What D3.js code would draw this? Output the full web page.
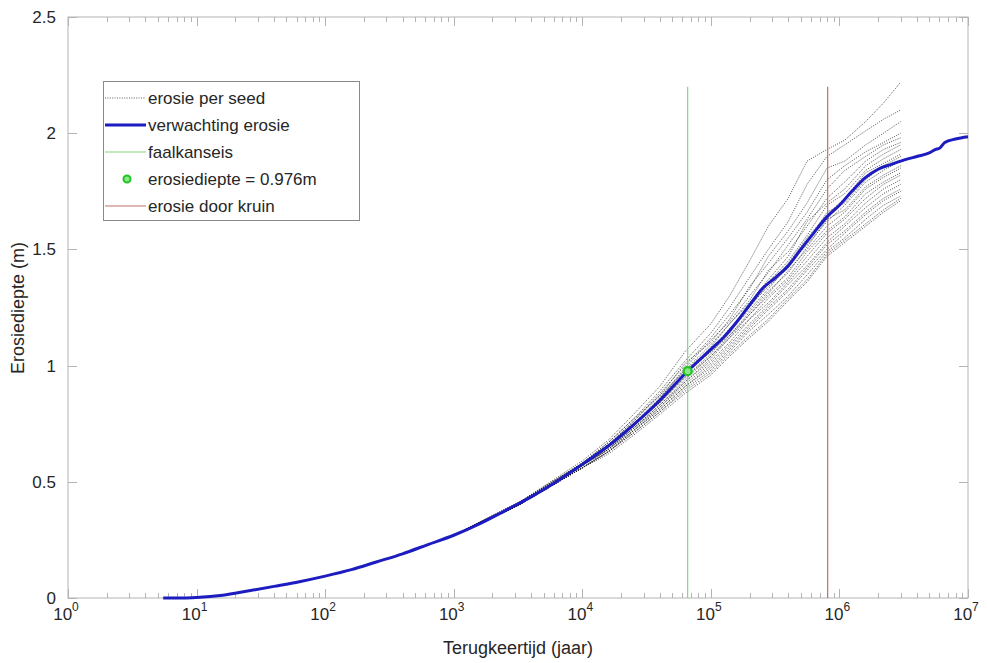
<!DOCTYPE html>
<html><head><meta charset="utf-8">
<script src="https://cdn.jsdelivr.net/npm/d3@7"></script>
<style>
body{margin:0;background:#fff;}
svg text{font-family:"Liberation Sans",Arial,Helvetica,sans-serif;fill:#262626;}
</style></head>
<body><svg id="c" width="988" height="663"></svg>
<script>
// ---------- data ----------
const xTickExponents = [0,1,2,3,4,5,6,7];
const yTicks = [0,0.5,1,1.5,2,2.5];
const xLabel = "Terugkeertijd (jaar)";
const yLabel = "Erosiediepte (m)";
const legendLabels = ["erosie per seed","verwachting erosie","faalkanseis","erosiediepte = 0.976m","erosie door kruin"];

// expected erosion (blue)
const meanT = [5.5,8,10,16,25,40,63,100,160,250,400,630,1000,1600,2500,4000,6300,1e4,1.6e4,2.5e4,4e4,6.3e4,1e5,1.25e5,1.6e5,2e5,2.5e5,3.2e5,4e5,5e5,6.3e5,8e5,1e6,1.25e6,1.6e6,2e6,2.5e6,3.2e6,4e6,5e6,5.6e6,6e6,6.6e6,8e6,1e7];
const meanE = [0,0,0.002,0.012,0.03,0.05,0.07,0.094,0.122,0.155,0.19,0.23,0.27,0.32,0.375,0.435,0.50,0.575,0.655,0.745,0.85,0.965,1.07,1.12,1.19,1.26,1.33,1.38,1.43,1.50,1.57,1.64,1.69,1.75,1.81,1.845,1.865,1.885,1.90,1.915,1.93,1.935,1.96,1.975,1.985];

// per-seed erosion (dotted)
const seedT = [1000,3200,1e4,1.6e4,2.5e4,4e4,6.3e4,1e5,1.4e5,2e5,2.8e5,4e5,5.6e5,8e5,1.1e6,1.6e6,2.2e6,3e6];
const seeds = [
 [0.27,0.41,0.59,0.68,0.79,0.91,1.06,1.18,1.30,1.45,1.60,1.72,1.88,1.93,1.97,2.05,2.13,2.22],
 [0.27,0.41,0.58,0.67,0.77,0.89,1.02,1.14,1.25,1.38,1.50,1.62,1.78,1.90,1.95,2.01,2.06,2.10],
 [0.27,0.40,0.58,0.66,0.76,0.88,1.00,1.12,1.22,1.33,1.47,1.58,1.70,1.85,1.88,1.95,2.00,2.05],
 [0.27,0.41,0.58,0.67,0.77,0.87,1.01,1.10,1.20,1.34,1.44,1.55,1.66,1.80,1.86,1.92,1.96,2.00],
 [0.27,0.40,0.57,0.66,0.75,0.86,0.99,1.11,1.19,1.30,1.40,1.52,1.63,1.76,1.84,1.90,1.95,1.98],
 [0.27,0.41,0.58,0.66,0.76,0.87,0.98,1.09,1.18,1.28,1.41,1.49,1.60,1.72,1.79,1.88,1.93,1.96],
 [0.27,0.40,0.57,0.65,0.74,0.85,0.97,1.08,1.18,1.27,1.37,1.47,1.62,1.70,1.76,1.86,1.91,1.95],
 [0.27,0.40,0.58,0.66,0.75,0.84,0.96,1.06,1.15,1.27,1.36,1.45,1.56,1.69,1.74,1.84,1.89,1.93],
 [0.27,0.41,0.57,0.65,0.74,0.86,0.98,1.07,1.16,1.25,1.35,1.44,1.55,1.65,1.72,1.83,1.87,1.91],
 [0.27,0.40,0.57,0.65,0.75,0.85,0.96,1.07,1.14,1.26,1.34,1.42,1.53,1.66,1.70,1.80,1.86,1.90],
 [0.27,0.40,0.58,0.66,0.74,0.84,0.95,1.05,1.15,1.24,1.33,1.43,1.52,1.62,1.69,1.79,1.84,1.88],
 [0.27,0.41,0.57,0.65,0.75,0.85,0.97,1.06,1.13,1.23,1.32,1.40,1.51,1.63,1.67,1.77,1.82,1.86],
 [0.27,0.40,0.57,0.64,0.74,0.84,0.95,1.04,1.13,1.22,1.31,1.41,1.50,1.60,1.66,1.76,1.81,1.85],
 [0.27,0.40,0.57,0.65,0.73,0.83,0.94,1.04,1.12,1.22,1.30,1.38,1.49,1.58,1.64,1.74,1.79,1.83],
 [0.27,0.40,0.57,0.64,0.73,0.83,0.93,1.03,1.12,1.20,1.29,1.37,1.47,1.57,1.63,1.72,1.78,1.82],
 [0.27,0.40,0.57,0.64,0.73,0.82,0.93,1.02,1.10,1.20,1.27,1.36,1.45,1.55,1.61,1.70,1.76,1.80],
 [0.27,0.40,0.56,0.64,0.72,0.82,0.92,1.01,1.09,1.18,1.26,1.35,1.43,1.53,1.60,1.68,1.74,1.78],
 [0.27,0.40,0.56,0.63,0.72,0.81,0.91,1.00,1.08,1.17,1.25,1.33,1.42,1.52,1.58,1.66,1.72,1.76],
 [0.27,0.40,0.56,0.63,0.72,0.81,0.91,0.99,1.07,1.16,1.24,1.32,1.41,1.50,1.57,1.65,1.71,1.75],
 [0.27,0.40,0.56,0.63,0.71,0.80,0.90,0.98,1.06,1.15,1.22,1.30,1.39,1.49,1.55,1.63,1.69,1.73],
 [0.27,0.40,0.56,0.63,0.71,0.80,0.89,0.97,1.05,1.13,1.20,1.29,1.37,1.48,1.54,1.61,1.67,1.72],
 [0.27,0.40,0.56,0.62,0.70,0.79,0.88,0.96,1.04,1.12,1.19,1.28,1.36,1.47,1.53,1.60,1.66,1.71]
];

const failT = 6.6e4;      // faalkanseis
const failE = 0.976;      // erosiediepte
const crestT = 8.1e5;     // erosie door kruin
const vLineTop = 2.2;

// ---------- drawing ----------
const svg = d3.select("#c");
const L=68,R=968,T=17,B=598;
const x = d3.scaleLog().domain([1,1e7]).range([L,R]);
const y = d3.scaleLinear().domain([0,2.5]).range([B,T]);
const axisCol = "#b4b4b4";

// box
svg.append("rect").attr("x",L).attr("y",T).attr("width",R-L).attr("height",B-T)
  .attr("fill","#fff").attr("stroke",axisCol).attr("stroke-width",1);

// x ticks (major and minor, inside, bottom and top)
const minor = [];
for (let e=0;e<7;e++) for (let m=2;m<=9;m++) minor.push(m*Math.pow(10,e));
const majors = xTickExponents.map(e=>Math.pow(10,e));
const gx = svg.append("g").attr("stroke",axisCol).attr("stroke-width",1);
majors.forEach(v=>{
  const px = Math.round(x(v))+0.5;
  gx.append("line").attr("x1",px).attr("x2",px).attr("y1",B).attr("y2",B-9);
  gx.append("line").attr("x1",px).attr("x2",px).attr("y1",T).attr("y2",T+9);
});
minor.forEach(v=>{
  const px = Math.round(x(v))+0.5;
  gx.append("line").attr("x1",px).attr("x2",px).attr("y1",B).attr("y2",B-5);
  gx.append("line").attr("x1",px).attr("x2",px).attr("y1",T).attr("y2",T+5);
});
// y ticks
yTicks.forEach(v=>{
  const py = Math.round(y(v))+0.5;
  gx.append("line").attr("x1",L).attr("x2",L+9).attr("y1",py).attr("y2",py);
  gx.append("line").attr("x1",R).attr("x2",R-9).attr("y1",py).attr("y2",py);
});

// x tick labels
xTickExponents.forEach(e=>{
  const t = svg.append("text").attr("x",x(Math.pow(10,e))-2).attr("y",620)
    .attr("text-anchor","middle").attr("font-size",17);
  t.append("tspan").text("10");
  t.append("tspan").attr("dy",-9).attr("font-size",12).text(e);
});
// y tick labels
yTicks.forEach(v=>{
  svg.append("text").attr("x",56).attr("y",y(v)+6).attr("text-anchor","end")
    .attr("font-size",17).text(String(v));
});
// axis labels
svg.append("text").attr("x",518).attr("y",654).attr("text-anchor","middle")
  .attr("font-size",18).text(xLabel);
svg.append("text").attr("transform","translate(24,308) rotate(-90)")
  .attr("text-anchor","middle").attr("font-size",18).text(yLabel);

// seed lines
const line = d3.line().x(d=>x(d[0])).y(d=>y(d[1]));
const smooth = d3.line().x(d=>x(d[0])).y(d=>y(d[1])).curve(d3.curveMonotoneX);
const gs = svg.append("g");
seeds.forEach(s=>{
  gs.append("path").attr("d",line(seedT.map((t,i)=>[t,s[i]])))
    .attr("fill","none").attr("stroke","#111").attr("stroke-opacity",0.8)
    .attr("stroke-width",0.9).attr("stroke-dasharray","1,1.3");
});

// vertical lines
svg.append("line").attr("x1",x(failT)).attr("x2",x(failT)).attr("y1",y(0)).attr("y2",y(vLineTop))
  .attr("stroke","#7fd97f").attr("stroke-width",1.2);
svg.append("line").attr("x1",x(crestT)).attr("x2",x(crestT)).attr("y1",y(0)).attr("y2",y(vLineTop))
  .attr("stroke","#c0706a").attr("stroke-width",1.2);

// mean line
svg.append("path").attr("d",smooth(meanT.map((t,i)=>[t,meanE[i]])))
  .attr("fill","none").attr("stroke","#1c1cc0").attr("stroke-width",3).attr("stroke-linejoin","round");

// marker
svg.append("circle").attr("cx",x(failT)).attr("cy",y(failE)).attr("r",4)
  .attr("fill","#8de88d").attr("stroke","#22c422").attr("stroke-width",2.2);

// legend
const lg = svg.append("g");
lg.append("rect").attr("x",103.5).attr("y",81.5).attr("width",256).attr("height",139)
  .attr("fill","#fff").attr("stroke","#8a8a8a").attr("stroke-width",1);
const ly = [98,125,152,179,206];
lg.append("line").attr("x1",105).attr("x2",146).attr("y1",ly[0]).attr("y2",ly[0])
  .attr("stroke","#333").attr("stroke-width",0.8).attr("stroke-dasharray","1,1.4");
lg.append("line").attr("x1",105).attr("x2",146).attr("y1",ly[1]).attr("y2",ly[1])
  .attr("stroke","#1c1cc0").attr("stroke-width",3);
lg.append("line").attr("x1",105).attr("x2",146).attr("y1",ly[2]).attr("y2",ly[2])
  .attr("stroke","#7fd97f").attr("stroke-width",1.2);
lg.append("circle").attr("cx",127).attr("cy",ly[3]).attr("r",3.5)
  .attr("fill","#8de88d").attr("stroke","#22c422").attr("stroke-width",2);
lg.append("line").attr("x1",105).attr("x2",146).attr("y1",ly[4]).attr("y2",ly[4])
  .attr("stroke","#c0706a").attr("stroke-width",1.2);
legendLabels.forEach((s,i)=>{
  lg.append("text").attr("x",148).attr("y",ly[i]+6).attr("font-size",17).text(s);
});
</script></body></html>
